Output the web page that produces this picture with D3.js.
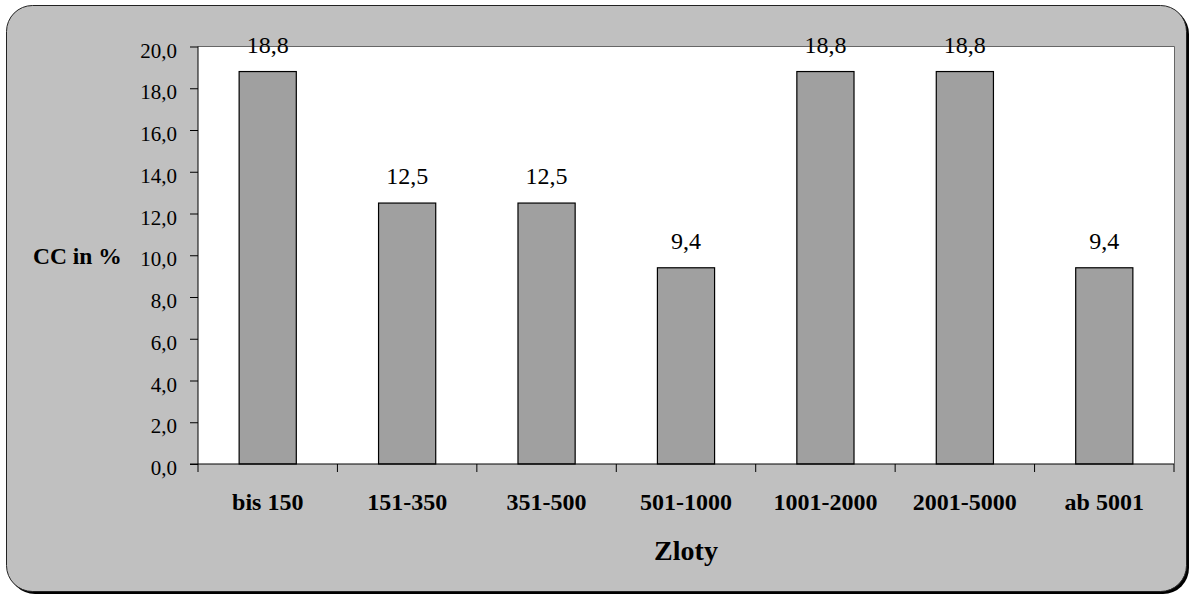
<!DOCTYPE html>
<html>
<head>
<meta charset="utf-8">
<script src="https://cdn.jsdelivr.net/npm/d3@7"></script>
<style>
  html, body { margin: 0; padding: 0; background: #ffffff; }
  svg text { font-family: 'Liberation Serif', 'Times New Roman', serif !important; }
</style>
</head>
<body>
<svg id="vis-svg" width="1192" height="597"></svg>
<script>

// Data
var categories = ['bis 150', '151-350', '351-500', '501-1000', '1001-2000', '2001-5000', 'ab 5001'];
var values     = [18.8, 12.5, 12.5, 9.4, 18.8, 18.8, 9.4];
var yTicks     = [0, 2, 4, 6, 8, 10, 12, 14, 16, 18, 20];
var xTitle     = 'Zloty';
var yTitle     = 'CC in %';

var svg = d3.select('#vis-svg');

// Frame with shadow
svg.append('rect')
  .attr('x', 9).attr('y', 8)
  .attr('width', 1180).attr('height', 586)
  .attr('rx', 26).attr('ry', 26)
  .attr('fill', '#000');
svg.append('rect')
  .attr('x', 6.5).attr('y', 5.5)
  .attr('width', 1180).attr('height', 586)
  .attr('rx', 26).attr('ry', 26)
  .attr('fill', '#c0c0c0')
  .attr('stroke', '#222')
  .attr('stroke-width', 1);

// Plot bounds
var plot = { left: 198, top: 46.5, right: 1174, bottom: 464 };

var x = d3.scaleBand()
  .domain(categories)
  .range([plot.left, plot.right])
  .padding(0);

var y = d3.scaleLinear()
  .domain([0, 20])
  .range([plot.bottom, plot.top]);

// Plot area
svg.append('rect')
  .attr('x', plot.left).attr('y', plot.top)
  .attr('width', plot.right - plot.left)
  .attr('height', plot.bottom - plot.top)
  .attr('fill', '#fff');

// top and right border of plot
svg.append('path')
  .attr('d', 'M' + plot.left + ',' + plot.top + 'H' + (plot.right + 0.5) + 'V' + plot.bottom)
  .attr('fill', 'none')
  .attr('stroke', '#666')
  .attr('stroke-width', 1);

// Bars
var barW = x.bandwidth() * 0.41;
svg.append('g').selectAll('rect')
  .data(categories)
  .enter().append('rect')
  .attr('x', function(d) { return x(d) + (x.bandwidth() - barW) / 2; })
  .attr('y', function(d, i) { return y(values[i]); })
  .attr('width', barW)
  .attr('height', function(d, i) { return y(0) - y(values[i]); })
  .attr('fill', '#a0a0a0')
  .attr('stroke', '#000')
  .attr('stroke-width', 1.2);

// Value labels
svg.append('g').selectAll('text')
  .data(categories)
  .enter().append('text')
  .attr('x', function(d) { return x(d) + x.bandwidth() / 2; })
  .attr('y', function(d, i) { return y(values[i]) - 19; })
  .attr('text-anchor', 'middle')
  .attr('font-size', 24)
  .text(function(d, i) { return d3.format('.1f')(values[i]).replace('.', ','); });

// Y Axis
var yAxis = d3.axisLeft(y)
  .tickValues(yTicks)
  .tickSize(8)
  .tickPadding(13)
  .tickFormat(function(d) { return d3.format('.1f')(d).replace('.', ','); });
var yg = svg.append('g')
  .attr('transform', 'translate(' + plot.left + ',0)')
  .call(yAxis)
  .attr('font-size', 21);
yg.select('.domain').attr('d', 'M-8,' + plot.bottom + 'H0V' + plot.top + 'H0').attr('stroke', '#000');
yg.selectAll('.tick line').attr('stroke', '#000');
yg.selectAll('.tick text')
  .attr('dy', '0.5em')
  .attr('fill', '#000');

// X Axis
var xAxis = d3.axisBottom(x).tickSize(0).tickPadding(0);
var xg = svg.append('g')
  .attr('transform', 'translate(0,' + plot.bottom + ')')
  .call(xAxis)
  .attr('font-size', 24)
  .attr('font-weight', 'bold');
xg.select('.domain').attr('d', 'M' + plot.left + ',0H' + plot.right).attr('stroke', '#000');
xg.selectAll('.tick text')
  .attr('y', 46)
  .attr('dy', 0)
  .attr('fill', '#000');

// category boundary ticks
var bounds = categories.map(function(d) { return x(d); }).concat([x.range()[1]]);
xg.append('g').selectAll('line')
  .data(bounds)
  .enter().append('line')
  .attr('x1', function(d) { return d; })
  .attr('x2', function(d) { return d; })
  .attr('y1', 0).attr('y2', 8)
  .attr('stroke', '#000');

// Axis titles
svg.append('text')
  .attr('x', (plot.left + plot.right) / 2)
  .attr('y', 560)
  .attr('text-anchor', 'middle')
  .attr('font-size', 28)
  .attr('font-weight', 'bold')
  .text(xTitle);

svg.append('text')
  .attr('x', 33)
  .attr('y', 264)
  .attr('font-size', 23.5)
  .attr('font-weight', 'bold')
  .text(yTitle);

</script>
</body>
</html>
